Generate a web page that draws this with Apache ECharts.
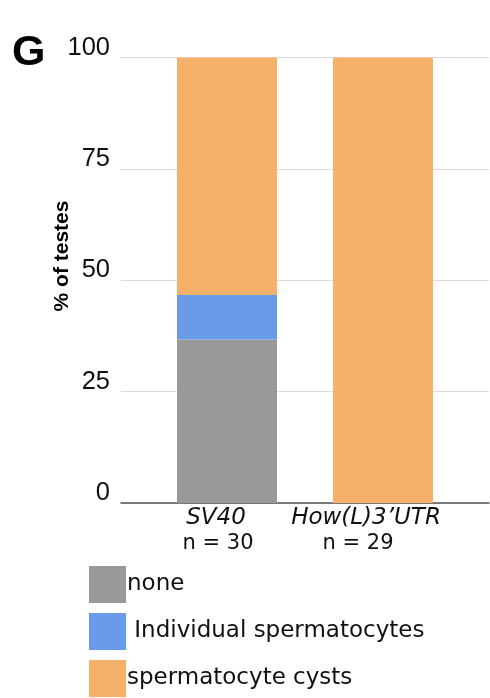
<!DOCTYPE html>
<html>
<head>
<meta charset="utf-8">
<script src="https://cdn.jsdelivr.net/npm/echarts@6/dist/echarts.min.js"></script>
<style>
  html, body { margin: 0; padding: 0; background: #fff; }
  #chart { width: 490px; height: 698px; }
</style>
</head>
<body>
<div id="chart"></div>
<script>
// Genotypes and sample sizes
const categories = ['SV40', 'How(L)3\u2019UTR'];
const sampleSizes = [30, 29];

// Percentage of testes in each class
const noneValues = [36.7, 0];
const individualValues = [10.0, 0];
const cystValues = [53.3, 100];

// Y axis ticks
const yTicks = [0, 25, 50, 75, 100];

const FONT = '"Liberation Sans", Arial, Helvetica, sans-serif';
const WIDE = '"DejaVu Sans", "Liberation Sans", sans-serif';
const colors = { none: '#999999', individual: '#6a9be8', cysts: '#f5b06a' };

const chart = echarts.init(document.getElementById('chart'), null, { renderer: 'canvas' });

const gridTop = 57.5;
const gridBottom = 195;

const option = {
  backgroundColor: '#ffffff',
  animation: false,
  grid: [
    { left: 121, right: 1, top: gridTop, bottom: gridBottom },
    { left: 149, width: 312, top: gridTop, bottom: gridBottom }
  ],
  xAxis: [
    {
      gridIndex: 0, type: 'value', min: 0, max: 1,
      axisLine: { show: true, lineStyle: { color: '#555', width: 1.6 } },
      axisTick: { show: false }, axisLabel: { show: false }, splitLine: { show: false }
    },
    {
      gridIndex: 1, type: 'category', data: categories,
      axisLine: { show: false }, axisTick: { show: false },
      axisLabel: {
        interval: 0,
        margin: 2,
        fontFamily: WIDE, fontSize: 21, color: '#111', lineHeight: 26,
        formatter: (v, i) => '{g' + i + '|' + v + '}\n{n' + i + '|n = ' + sampleSizes[i] + '}',
        rich: {
          g0: { fontFamily: WIDE, fontSize: 23, fontStyle: 'italic', color: '#111', lineHeight: 26, padding: [0, 22, 0, 0] },
          g1: { fontFamily: WIDE, fontSize: 23, fontStyle: 'italic', color: '#111', lineHeight: 26, padding: [0, 34, 0, 0] },
          n0: { fontFamily: WIDE, fontSize: 21, color: '#111', lineHeight: 26, padding: [0, 18, 0, 0] },
          n1: { fontFamily: WIDE, fontSize: 21, color: '#111', lineHeight: 26, padding: [0, 50, 0, 0] }
        }
      }
    }
  ],
  yAxis: [
    {
      gridIndex: 0, type: 'value', min: yTicks[0], max: yTicks[yTicks.length - 1], interval: 25,
      axisLine: { show: false }, axisTick: { show: false },
      axisLabel: {
        margin: 11, fontFamily: FONT, fontSize: 25.5, color: '#111',
        verticalAlign: 'bottom', lineHeight: 20
      },
      splitLine: { show: true, lineStyle: { color: '#dcdcdc', width: 1.2 } }
    },
    {
      gridIndex: 1, type: 'value', min: 0, max: 100, show: false
    }
  ],
  legend: {
    orient: 'vertical', left: 89, top: 566, padding: 0,
    itemWidth: 37, itemHeight: 37, itemGap: 10,
    icon: 'rect',
    formatter: (name) => name === 'Individual spermatocytes' ? ' ' + name : name,
    textStyle: { fontFamily: WIDE, fontSize: 23, color: '#111', padding: [0, 0, 0, -4] },
    data: ['none', 'Individual spermatocytes', 'spermatocyte cysts']
  },
  graphic: [
    {
      type: 'text', left: 12, top: 32,
      style: { text: 'G', fontFamily: FONT, fontSize: 43, fontWeight: 'bold', fill: '#000' }
    },
    {
      type: 'text', x: 62, y: 256, rotation: Math.PI / 2,
      style: { text: '% of testes', fontFamily: FONT, fontSize: 21, fontWeight: 'bold', fill: '#000',
               align: 'center', verticalAlign: 'middle' }
    }
  ],
  series: [
    { name: 'none', type: 'bar', stack: 'total', xAxisIndex: 1, yAxisIndex: 1,
      barWidth: 100, data: noneValues, itemStyle: { color: colors.none } },
    { name: 'Individual spermatocytes', type: 'bar', stack: 'total', xAxisIndex: 1, yAxisIndex: 1,
      barWidth: 100, data: individualValues, itemStyle: { color: colors.individual } },
    { name: 'spermatocyte cysts', type: 'bar', stack: 'total', xAxisIndex: 1, yAxisIndex: 1,
      barWidth: 100, data: cystValues, itemStyle: { color: colors.cysts } }
  ]
};

chart.setOption(option);
</script>
</body>
</html>
